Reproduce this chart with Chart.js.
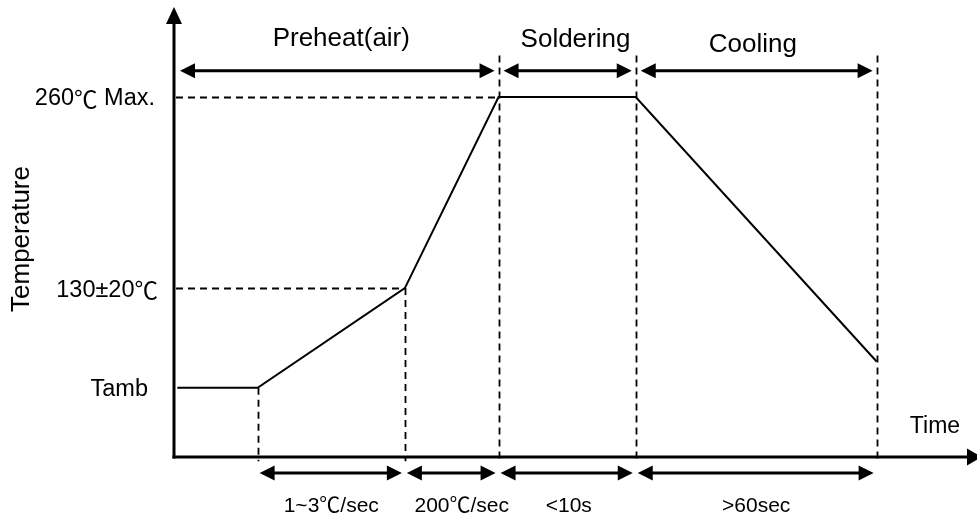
<!DOCTYPE html>
<html>
<head>
<meta charset="utf-8">
<script src="https://cdn.jsdelivr.net/npm/chart.js@4"></script>
<style>body{margin:0;background:#fff}</style>
</head>
<body>
<canvas id="profile" width="977" height="519"></canvas>
<script>
// reflow profile (schematic units)
const times = [1, 25, 69, 97, 138, 210];
const temps = [50, 50, 122, 260, 260, 69];

const tempTicks = [260, 122, 50];
const tempTickLabels = ['260℃ Max.', '130±20℃', 'Tamb'];

const phases = ['Preheat(air)', 'Soldering', 'Cooling'];
const phaseBounds = [[0, 97], [97, 138], [138, 210]];
const phaseLabelX = [50, 120, 173];

const rates = ['1~3℃/sec', '200℃/sec', '<10s', '>60sec'];
const rateBounds = [[25, 69], [69, 97], [97, 138], [138, 210]];
const rateLabelX = [47, 86, 118, 174];

const FONT = '"Liberation Sans", Arial, sans-serif';
const CJK = '"Noto Sans CJK SC", sans-serif';

function arrowHead(ctx, x, y, dir, len, half) {
    ctx.beginPath();
    if (dir === 'r') {
        ctx.moveTo(x, y); ctx.lineTo(x - len, y - half); ctx.lineTo(x - len, y + half);
    } else if (dir === 'l') {
        ctx.moveTo(x, y); ctx.lineTo(x + len, y - half); ctx.lineTo(x + len, y + half);
    } else {
        ctx.moveTo(x, y); ctx.lineTo(x - half, y + len); ctx.lineTo(x + half, y + len);
    }
    ctx.closePath();
    ctx.fill();
}

function dimArrow(ctx, x1, x2, y) {
    ctx.lineWidth = 3;
    ctx.beginPath();
    ctx.moveTo(x1 + 10, y);
    ctx.lineTo(x2 - 10, y);
    ctx.stroke();
    arrowHead(ctx, x1, y, 'l', 15, 7.5);
    arrowHead(ctx, x2, y, 'r', 15, 7.5);
}

// text with the ℃ sign taken from the CJK font
function mixedText(ctx, text, x, y, size, align) {
    const parts = text.split(/(℃)/).filter(s => s.length);
    const fontOf = s => (s === '℃' ? size + 'px ' + CJK : size + 'px ' + FONT);
    let total = 0;
    const widths = parts.map(s => { ctx.font = fontOf(s); const w = ctx.measureText(s).width; total += w; return w; });
    let cx = align === 'center' ? x - total / 2 : align === 'right' ? x - total : x;
    ctx.textAlign = 'left';
    parts.forEach((s, i) => {
        ctx.font = fontOf(s);
        ctx.fillText(s, cx, y);
        cx += widths[i];
    });
}

const profilePlugin = {
    id: 'profile',
    beforeDatasetsDraw(chart) {
        const ctx = chart.ctx;
        const xs = chart.scales.x, ys = chart.scales.y;
        const area = chart.chartArea;
        ctx.save();
        ctx.strokeStyle = '#000';
        ctx.fillStyle = '#000';

        // dashed guide lines
        ctx.lineWidth = 1.8;
        ctx.setLineDash([7, 5]);
        const guides = [[times[1], temps[1]], [times[2], temps[2]], [times[3], 290], [times[4], 290], [times[5], 290]];
        guides.forEach(g => {
            const px = Math.round(xs.getPixelForValue(g[0])) + 0.5;
            ctx.beginPath();
            ctx.moveTo(px, ys.getPixelForValue(g[1]));
            ctx.lineTo(px, ys.getPixelForValue(-3));
            ctx.stroke();
        });
        [[temps[3], times[3]], [temps[2], times[2]]].forEach(h => {
            const py = Math.round(ys.getPixelForValue(h[0])) + 0.5;
            ctx.beginPath();
            ctx.moveTo(area.left + 2, py);
            ctx.lineTo(xs.getPixelForValue(h[1]), py);
            ctx.stroke();
        });
        ctx.setLineDash([]);

        // axes with arrows
        const x0 = area.left, y0 = area.bottom;
        ctx.lineWidth = 3;
        ctx.beginPath();
        ctx.moveTo(x0, y0 + 1.5);
        ctx.lineTo(x0, area.top + 14);
        ctx.stroke();
        arrowHead(ctx, x0, area.top, 'u', 17, 8);
        ctx.beginPath();
        ctx.moveTo(x0 - 1.5, y0);
        ctx.lineTo(area.right - 5, y0);
        ctx.stroke();
        arrowHead(ctx, area.right + 5, y0, 'r', 15, 8.5);
        ctx.restore();
    },
    afterDatasetsDraw(chart) {
        const ctx = chart.ctx;
        const xs = chart.scales.x, ys = chart.scales.y;
        const area = chart.chartArea;
        ctx.save();
        ctx.strokeStyle = '#000';
        ctx.fillStyle = '#000';

        // phase dimension arrows (top)
        const topY = ys.getPixelForValue(279);
        phaseBounds.forEach((b, i) => {
            const a = i === 0 ? area.left + 6 : xs.getPixelForValue(b[0]) + 5;
            dimArrow(ctx, a, xs.getPixelForValue(b[1]) - 4, topY);
        });
        // rate dimension arrows (bottom)
        const botY = area.bottom + 16;
        rateBounds.forEach(b => {
            dimArrow(ctx, xs.getPixelForValue(b[0]) + 2, xs.getPixelForValue(b[1]) - 3, botY);
        });

        // phase labels
        ctx.textBaseline = 'alphabetic';
        const phaseBase = [46, 47, 52];
        phases.forEach((p, i) => mixedText(ctx, p, xs.getPixelForValue(phaseLabelX[i]), phaseBase[i], 26, 'center'));

        // rate labels
        rates.forEach((r, i) => mixedText(ctx, r, xs.getPixelForValue(rateLabelX[i]), 512, 21, 'center'));

        // temperature labels
        ctx.textBaseline = 'middle';
        const gap = [19, 16, 26];
        tempTicks.forEach((t, i) => mixedText(ctx, tempTickLabels[i], area.left - gap[i], ys.getPixelForValue(t) + 2, 23.5, 'right'));

        // axis titles
        ctx.textBaseline = 'alphabetic';
        mixedText(ctx, 'Time', 935, 433, 23, 'center');
        ctx.save();
        ctx.translate(22, 239);
        ctx.rotate(-Math.PI / 2);
        ctx.textBaseline = 'middle';
        mixedText(ctx, 'Temperature', 0, 0, 26, 'center');
        ctx.restore();
        ctx.restore();
    }
};

const profile_ctx = document.getElementById('profile');

let profile = new Chart(profile_ctx, {
    type: 'line',
    data: {
        datasets: [{
            label: 'Temperature',
            data: times.map((t, i) => ({ x: t, y: temps[i] })),
            borderColor: '#000',
            borderWidth: 2,
            pointRadius: 0,
            tension: 0,
            fill: false,
        }]
    },
    options: {
        responsive: false,
        animation: false,
        layout: {
            padding: { left: 174, top: 7, right: 0, bottom: 62 }
        },
        plugins: {
            legend: { display: false },
            tooltip: { enabled: false },
        },
        scales: {
            x: { type: 'linear', min: 0, max: 240, display: false },
            y: { min: 0, max: 325, display: false }
        }
    },
    plugins: [profilePlugin]
});
</script>
</body>
</html>
